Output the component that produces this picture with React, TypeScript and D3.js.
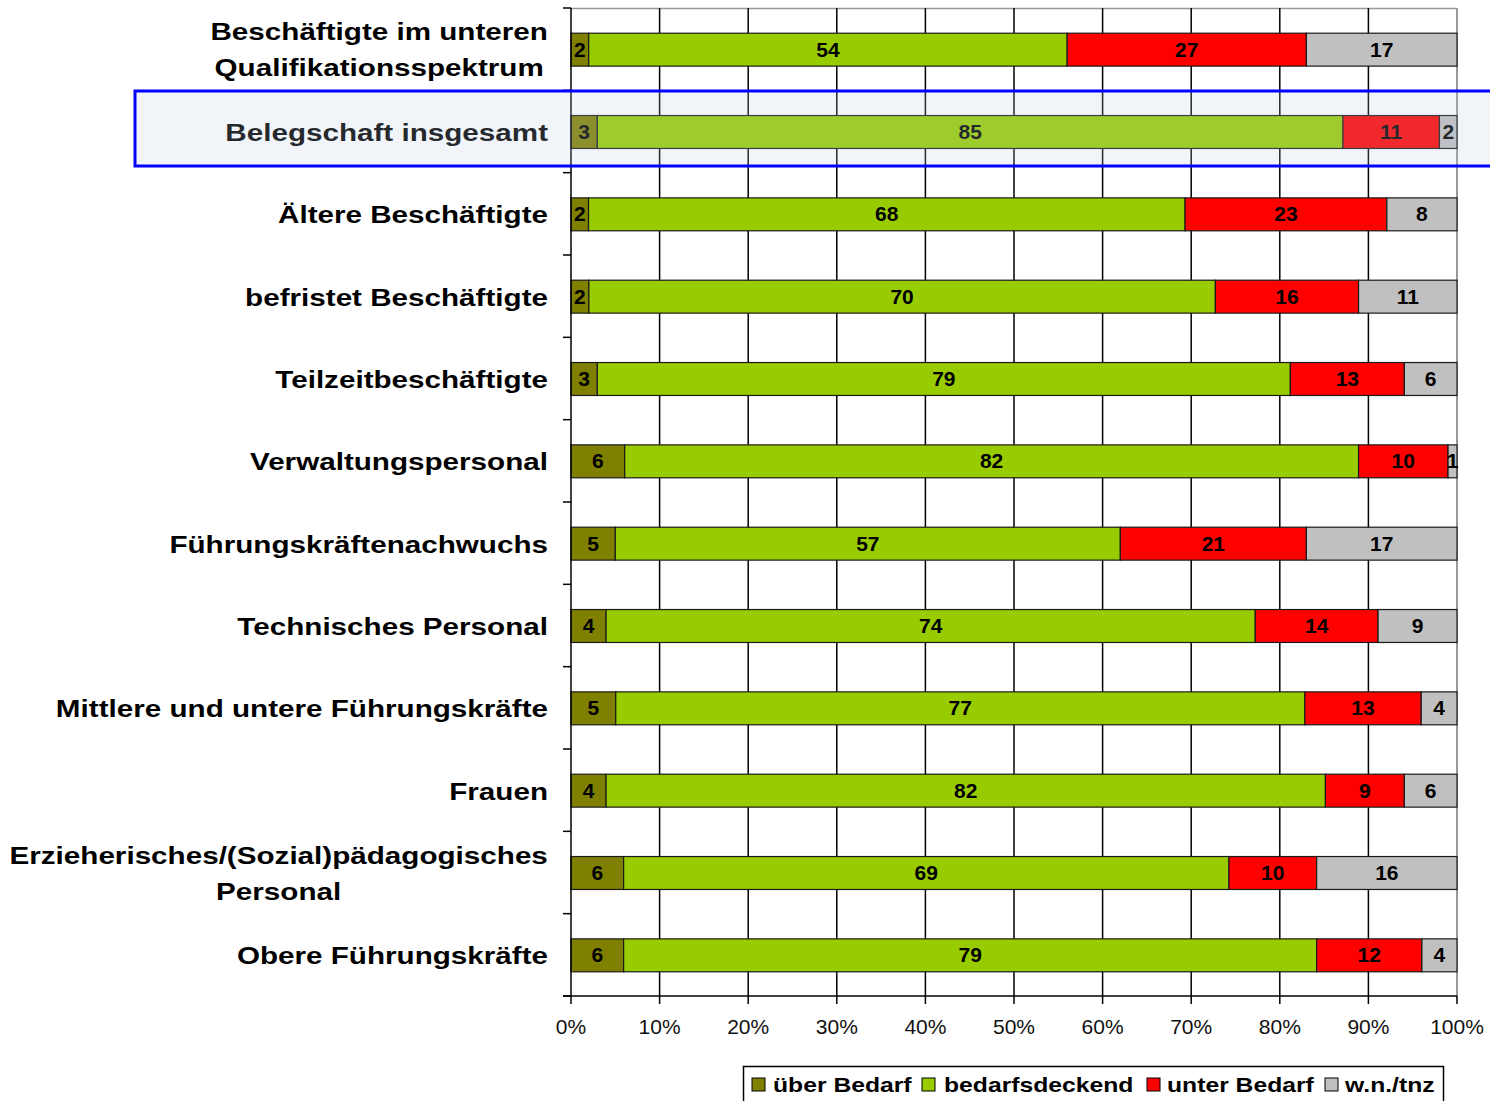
import React from "react";
import * as d3 from "d3";

const categories = [
  "Beschäftigte im unteren\nQualifikationsspektrum",
  "Belegschaft insgesamt",
  "Ältere Beschäftigte",
  "befristet Beschäftigte",
  "Teilzeitbeschäftigte",
  "Verwaltungspersonal",
  "Führungskräftenachwuchs",
  "Technisches Personal",
  "Mittlere und untere Führungskräfte",
  "Frauen",
  "Erzieherisches/(Sozial)pädagogisches\nPersonal",
  "Obere Führungskräfte",
];
const ueberBedarf = [2, 3, 2, 2, 3, 6, 5, 4, 5, 4, 6, 6];
const bedarfsdeckend = [54, 85, 68, 70, 79, 82, 57, 74, 77, 82, 69, 79];
const unterBedarf = [27, 11, 23, 16, 13, 10, 21, 14, 13, 9, 10, 12];
const wnTnz = [17, 2, 8, 11, 6, 1, 17, 9, 4, 6, 16, 4];
const seriesNames = ["über Bedarf", "bedarfsdeckend", "unter Bedarf", "w.n./tnz"];
const seriesColors = ["#808000", "#99cc00", "#ff0000", "#c0c0c0"];
const xTicks = [0, 0.1, 0.2, 0.3, 0.4, 0.5, 0.6, 0.7, 0.8, 0.9, 1.0];
const highlighted = "Belegschaft insgesamt";

const W = 1490;
const H = 1101;
const X0 = 571;
const X1 = 1457;
const Y0 = 8;
const Y1 = 996;
const LABEL_FONT = "bold 24px 'Liberation Sans', Arial, sans-serif";
const STRETCH = 1.235;

let measureCtx: CanvasRenderingContext2D | null = null;
function measure(text: string, font: string) {
  if (!measureCtx) {
    const c = document.createElement("canvas");
    measureCtx = c.getContext("2d");
  }
  if (!measureCtx) return text.length * 12;
  measureCtx.font = font;
  return measureCtx.measureText(text).width;
}

export default function App() {
  const rows = categories.map((c, i) => ({
    cat: c,
    s0: ueberBedarf[i],
    s1: bedarfsdeckend[i],
    s2: unterBedarf[i],
    s3: wnTnz[i],
  }));
  const keys = ["s0", "s1", "s2", "s3"];
  const stack = d3.stack<any>().keys(keys).offset(d3.stackOffsetExpand);
  const series = stack(rows);

  const x = d3.scaleLinear().domain([0, 1]).range([X0, X1]);
  const y = d3
    .scaleBand<string>()
    .domain(categories)
    .range([Y0, Y1])
    .paddingInner(0.6)
    .paddingOuter(0.3);
  const step = y.step();
  const bw = y.bandwidth();

  const hiTop = Y0 + categories.indexOf(highlighted) * step;

  const legendSquares = [752, 922, 1147, 1325];
  const legendTexts = [773, 944, 1167, 1345];

  return (
    <svg
      width={W}
      height={H}
      style={{ position: "absolute", left: 0, top: 0, background: "#fff" }}
      fontFamily="'Liberation Sans', Arial, sans-serif"
    >
      <rect x={0} y={0} width={W} height={H} fill="#fff" />
      {/* plot border top/right */}
      <line x1={X0} x2={X1} y1={Y0 + 0.5} y2={Y0 + 0.5} stroke="#999" strokeWidth={1.5} />
      <line x1={X1} x2={X1} y1={Y0} y2={Y1} stroke="#999" strokeWidth={2} />
      {/* vertical grid */}
      {xTicks.slice(1, -1).map((t) => (
        <line key={t} x1={x(t)} x2={x(t)} y1={Y0} y2={Y1} stroke="#000" strokeWidth={1.5} />
      ))}
      {/* bars */}
      {series.map((s, si) => (
        <g key={si}>
          {s.map((d, i) => {
            const cat = categories[i];
            return (
              <rect
                key={i}
                x={x(d[0])}
                y={y(cat)! + 0.5}
                width={x(d[1]) - x(d[0])}
                height={bw}
                fill={seriesColors[si]}
                stroke="#1a1a1a"
                strokeWidth={1.2}
              />
            );
          })}
        </g>
      ))}
      {/* value labels */}
      {series.map((s, si) => (
        <g key={"l" + si}>
          {s.map((d, i) => {
            const cat = categories[i];
            const v = (rows[i] as any)[keys[si]];
            return (
              <text
                key={i}
                x={(x(d[0]) + x(d[1])) / 2}
                y={y(cat)! + bw / 2 + 7.5}
                textAnchor="middle"
                fontSize={21}
                fontWeight="bold"
                fill="#000"
              >
                {v}
              </text>
            );
          })}
        </g>
      ))}
      {/* left axis */}
      <line x1={X0} x2={X0} y1={Y0} y2={Y1} stroke="#000" strokeWidth={1.5} />
      {d3.range(categories.length + 1).map((i) => (
        <line key={i} x1={X0 - 8} x2={X0} y1={Y0 + i * step} y2={Y0 + i * step} stroke="#000" strokeWidth={1.5} />
      ))}
      {/* bottom axis */}
      <line x1={X0 - 8} x2={X1} y1={Y1} y2={Y1} stroke="#000" strokeWidth={1.5} />
      {xTicks.map((t) => (
        <g key={"t" + t}>
          <line x1={x(t)} x2={x(t)} y1={Y1} y2={Y1 + 8} stroke="#000" strokeWidth={1.5} />
          <text x={x(t)} y={Y1 + 38} textAnchor="middle" fontSize={21} fill="#111">
            {d3.format(".0%")(t)}
          </text>
        </g>
      ))}
      {/* category labels */}
      {categories.map((c) => {
        const lines = c.split("\n");
        const cy = y(c)! + bw / 2 + 1;
        if (lines.length === 1) {
          return (
            <g key={c} transform={`translate(548,${cy + 8.5}) scale(${STRETCH},1)`}>
              <text textAnchor="end" fontSize={24} fontWeight="bold" fill="#000">
                {c}
              </text>
            </g>
          );
        }
        const maxW = Math.max(...lines.map((l) => measure(l, LABEL_FONT)));
        return (
          <g key={c} transform={`translate(548,${cy + 8}) scale(${STRETCH},1)`}>
            {lines.map((l, li) => (
              <text
                key={li}
                x={-maxW / 2}
                y={(li - (lines.length - 1) / 2) * 36}
                textAnchor="middle"
                fontSize={24}
                fontWeight="bold"
                fill="#000"
              >
                {l}
              </text>
            ))}
          </g>
        );
      })}
      {/* highlight box */}
      <rect
        x={135}
        y={hiTop + 82.5 - step + 0.5}
        width={1400}
        height={75}
        fill="rgba(185,205,225,0.2)"
        stroke="#0000ff"
        strokeWidth={3}
      />
      {/* legend */}
      <rect x={743.5} y={1066.5} width={700} height={60} fill="#fff" stroke="#000" strokeWidth={1.5} />
      {seriesNames.map((n, i) => (
        <g key={n}>
          <rect x={legendSquares[i]} y={1078} width={13} height={13} fill={seriesColors[i]} stroke="#000" strokeWidth={1} />
          <g transform={`translate(${legendTexts[i]},1092) scale(${STRETCH},1)`}>
            <text fontSize={20} fontWeight="bold" fill="#000">
              {n}
            </text>
          </g>
        </g>
      ))}
    </svg>
  );
}
